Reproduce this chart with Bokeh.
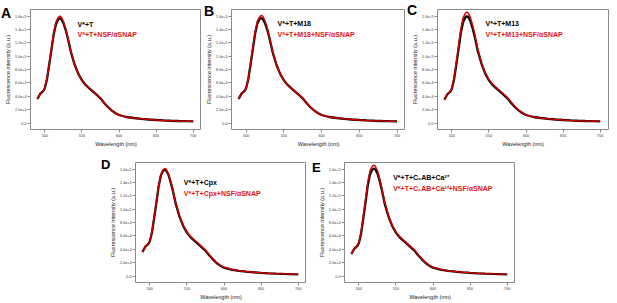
import numpy as np
from bokeh.plotting import figure
from bokeh.layouts import column, row
from bokeh.models import Spacer, Label, FixedTicker, Range1d, GridBox, Div
from bokeh.embed import file_html
from bokeh.resources import INLINE

# Wavelength grid (nm)
WL = [490, 492, 494, 496, 498, 500, 503, 506, 509, 512, 515, 518, 520, 522, 525,
      528, 531, 535, 540, 545, 550, 555, 560, 565, 570, 575, 580, 585, 590, 595,
      600, 610, 620, 630, 640, 650, 660, 670, 680, 690, 700]

# Fluorescence intensity values in thousands (a.u. / 1000)
A_black = [36, 40, 44, 46, 48, 52, 66, 88, 110, 133, 148, 155, 157, 156, 150, 140, 127, 107, 88, 74,
           64, 57, 52, 47, 42, 37, 30, 24, 19, 15, 12, 9, 7.5, 6.3, 5.3, 4.5, 3.9, 3.4, 3.0, 2.7, 2.5]
A_red = [36, 40, 44, 46, 48, 52, 67, 89, 112, 135, 151, 158, 160, 159, 152, 141, 128, 108, 88, 74,
         64, 57, 52, 47, 42, 37, 30, 24, 19, 15, 12, 9, 7.5, 6.3, 5.3, 4.5, 3.9, 3.4, 3.0, 2.7, 2.5]
B_black = [36, 40, 44, 46, 48, 52, 66, 88, 111, 134, 149, 156, 157, 156, 150, 140, 127, 107, 88, 74,
           64, 57, 52, 47, 42, 37, 30, 24, 19, 15, 12, 9, 7.5, 6.3, 5.3, 4.5, 3.9, 3.4, 3.0, 2.7, 2.5]
B_red = [36, 40, 44, 46, 48, 52, 67, 90, 113, 137, 153, 159, 161, 160, 153, 142, 128, 108, 88, 74,
         64, 57, 52, 47, 42, 37, 30, 24, 19, 15, 12, 9, 7.5, 6.3, 5.3, 4.5, 3.9, 3.4, 3.0, 2.7, 2.5]
C_black = [35, 39, 43, 45, 47, 51, 65, 87, 110, 134, 150, 158, 160, 159, 153, 142, 129, 108, 89, 74,
           64, 57, 52, 47, 42, 37, 30, 24, 19, 15, 12, 9, 7.5, 6.3, 5.3, 4.5, 3.9, 3.4, 3.0, 2.7, 2.5]
C_red = [35, 39, 43, 45, 48, 52, 67, 90, 115, 140, 157, 164, 166, 165, 158, 146, 132, 110, 90, 75,
         65, 58, 53, 48, 43, 38, 31, 25, 19.5, 15.5, 12, 9, 7.5, 6.3, 5.3, 4.5, 3.9, 3.4, 3.0, 2.7, 2.5]
D_black = [36, 40, 44, 46, 48, 52, 66, 88, 111, 135, 151, 158, 159, 158, 152, 141, 128, 108, 89, 75,
           65, 58, 53, 48, 43, 38, 31, 25, 19.5, 15.5, 12.5, 9.5, 7.8, 6.5, 5.5, 4.7, 4.0, 3.5, 3.1, 2.8, 2.6]
D_red = [36, 40, 44, 46, 48, 52, 67, 89, 112, 136, 152, 159, 161, 160, 153, 142, 129, 109, 90, 76,
         66, 59, 54, 49, 44, 39, 32, 26, 20, 16, 13, 10, 8, 6.7, 5.7, 4.9, 4.2, 3.7, 3.3, 3.0, 2.8]
E_black = [33, 37, 41, 43, 45, 49, 63, 86, 110, 135, 152, 159, 161, 160, 154, 143, 129, 108, 89, 75,
           65, 58, 53, 48, 43, 38, 31, 25, 19.5, 15.5, 12.5, 9.5, 7.8, 6.5, 5.5, 4.7, 4.0, 3.5, 3.1, 2.8, 2.6]
E_red = [33, 37, 41, 43, 46, 50, 65, 89, 114, 140, 157, 164, 166, 165, 158, 146, 131, 110, 90, 76,
         66, 59, 54, 49, 44, 39, 32, 26, 20, 16, 13, 10, 8, 6.7, 5.7, 4.9, 4.2, 3.7, 3.3, 3.0, 2.8]

X_TICKS = [500, 550, 600, 650, 700]
Y_TICKS = [0, 20000, 40000, 60000, 80000, 100000, 120000, 140000, 160000]
Y_TICK_LABELS = ["0.0", "2.0e+4", "4.0e+4", "6.0e+4", "8.0e+4", "1.0e+5", "1.2e+5", "1.4e+5", "1.6e+5"]

BLACK = "#000000"
RED = "#e3141b"
LINE_RED = "#d00000"
FONT = "Liberation Sans"


def panel(letter, black, red, leg_black, leg_red, width, height, mbl, mbr, mbt, mbb,
          letter_left, letter_top, letter_size, leg_dx, leg_dy1, leg_dy2):
    p = figure(width=width, height=height, output_backend="svg", toolbar_location=None,
               x_range=Range1d(480.7, 711.2), y_range=Range1d(-9700, 170000),
               min_border_left=mbl, min_border_right=mbr, min_border_top=mbt,
               min_border_bottom=mbb)
    p.xgrid.visible = False
    p.ygrid.visible = False
    p.outline_line_color = "#8a8a8a"
    p.outline_line_width = 1
    p.background_fill_color = "white"
    p.border_fill_color = "white"

    yb = np.array(black) * 1000.0
    yr = np.array(red) * 1000.0
    p.line(WL, yb, line_color=BLACK, line_width=2.3)
    p.line(WL, yr, line_color=LINE_RED, line_width=1.5)

    for ax in (p.xaxis[0], p.yaxis[0]):
        ax.axis_line_color = None
        ax.major_tick_line_color = "#8a8a8a"
        ax.major_tick_in = 0
        ax.major_tick_out = 3
        ax.minor_tick_line_color = None
        ax.major_label_text_font = FONT
        ax.major_label_text_font_size = "3.7px"
        ax.major_label_text_color = "#333333"
        ax.axis_label_text_font = FONT
        ax.axis_label_text_font_size = "5.5px"
        ax.axis_label_text_font_style = "normal"
        ax.axis_label_text_color = "#222222"
        ax.axis_label_text_line_height = 1.0
        ax.major_label_standoff = 1
        ax.axis_label_standoff = 1
    p.xaxis[0].ticker = FixedTicker(ticks=X_TICKS)
    p.yaxis[0].ticker = FixedTicker(ticks=Y_TICKS)
    p.yaxis[0].major_label_overrides = {t: s for t, s in zip(Y_TICKS, Y_TICK_LABELS)}
    p.xaxis[0].axis_label = "Wavelength (nm)"
    p.yaxis[0].axis_label = "Fluorescence intensity (a.u.)"

    fh = height - mbt - mbb
    p.add_layout(Label(x=leg_dx, y=fh - leg_dy1, x_units="screen", y_units="screen",
                       text=leg_black, text_font=FONT, text_font_style="bold",
                       text_font_size="7px", text_color=BLACK, text_baseline="middle"))
    p.add_layout(Label(x=leg_dx, y=fh - leg_dy2, x_units="screen", y_units="screen",
                       text=leg_red, text_font=FONT, text_font_style="bold",
                       text_font_size="7px", text_color=RED, text_baseline="middle"))

    tag = Div(text=letter, width=14, height=16, margin=(letter_top, 0, 0, letter_left),
              styles={"font-family": "Liberation Sans, Arial, sans-serif",
                      "font-size": f"{letter_size}px", "font-weight": "bold",
                      "line-height": f"{letter_size}px", "color": "black"})
    return GridBox(children=[(p, 0, 0), (tag, 0, 0)], spacing=0)


pA = panel("A", A_black, A_red, "V*+T", "V*+T+NSF/\u03b1SNAP",
           201, 152, 30, 0, 9, 23, 1, 6, 14, 47, 15, 25.3)
pB = panel("B", B_black, B_red, "V*+T+M18", "V*+T+M18+NSF/\u03b1SNAP",
           204, 152, 30, 0, 9, 23, 3, 4, 14, 46, 14.3, 25.3)
pC = panel("C", C_black, C_red, "V*+T+M13", "V*+T+M13+NSF/\u03b1SNAP",
           212, 152, 32, 9, 9, 23, 2, 3, 14, 48, 14.3, 25.3)
pD = panel("D", D_black, D_red, "V*+T+Cpx", "V*+T+Cpx+NSF/\u03b1SNAP",
           211, 151, 40, 0, 10, 21, 6, 6, 13, 48.3, 19.7, 31.3)
pE = panel("E", E_black, E_red, "V*+T+C\u2082AB+Ca\u00b2\u207a",
           "V*+T+C\u2082AB+Ca\u00b2\u207a+NSF/\u03b1SNAP",
           209, 151, 38, 0, 10, 21, 6, 9, 13, 48.7, 14.7, 26.3)

top = row(pA, pB, pC, spacing=0)
bottom = row(Spacer(width=95, height=151), pD, pE, spacing=0)
layout = column(top, bottom, spacing=0)

open("out.html", "w").write(file_html(layout, INLINE))
